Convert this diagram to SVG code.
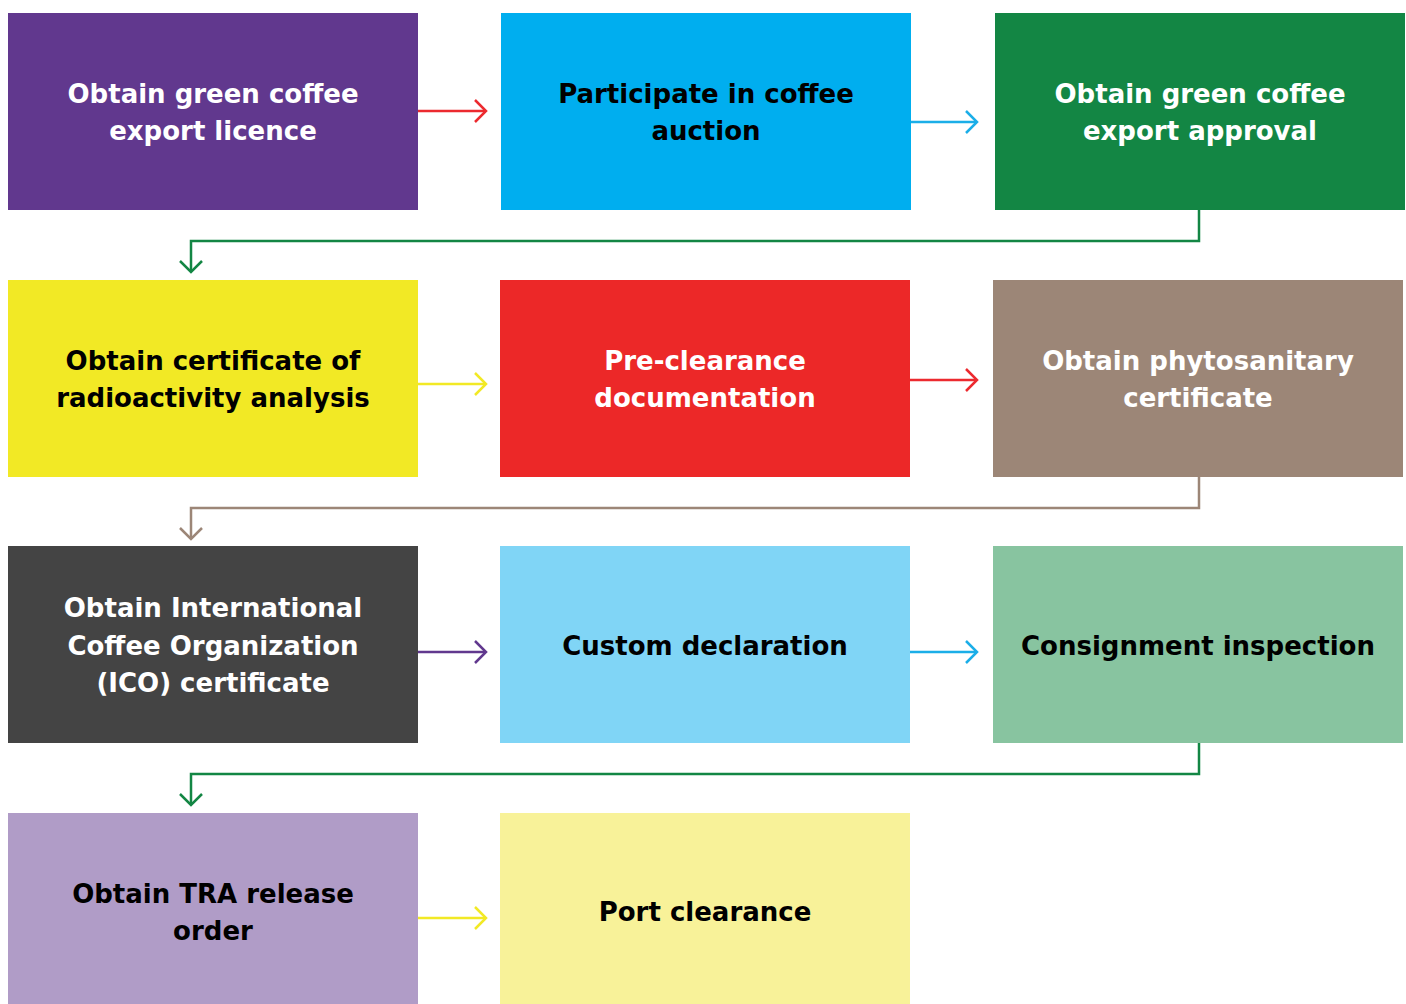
<svg xmlns="http://www.w3.org/2000/svg" width="1406" height="1004" viewBox="0 0 1406 1004">
  <defs>
    <style>
      text { font-family: "DejaVu Sans", Verdana, sans-serif; font-weight: bold; font-size: 26px; text-anchor: middle; }
      .w { fill: #ffffff; }
      .k { fill: #000000; }
      .ln { fill: none; stroke-width: 2.5; }
    </style>
    <marker id="ah-red" viewBox="0 0 14 24" refX="12" refY="12" markerWidth="14" markerHeight="24" markerUnits="userSpaceOnUse" orient="auto"><path d="M1,1 L12,12 L1,23" fill="none" stroke="#EC2A2F" stroke-width="2.5"/></marker>
    <marker id="ah-blue" viewBox="0 0 14 24" refX="12" refY="12" markerWidth="14" markerHeight="24" markerUnits="userSpaceOnUse" orient="auto"><path d="M1,1 L12,12 L1,23" fill="none" stroke="#1BAEE8" stroke-width="2.5"/></marker>
    <marker id="ah-green" viewBox="0 0 14 24" refX="12" refY="12" markerWidth="14" markerHeight="24" markerUnits="userSpaceOnUse" orient="auto"><path d="M1,1 L12,12 L1,23" fill="none" stroke="#138644" stroke-width="2.5"/></marker>
    <marker id="ah-yellow" viewBox="0 0 14 24" refX="12" refY="12" markerWidth="14" markerHeight="24" markerUnits="userSpaceOnUse" orient="auto"><path d="M1,1 L12,12 L1,23" fill="none" stroke="#F2E925" stroke-width="2.5"/></marker>
    <marker id="ah-brown" viewBox="0 0 14 24" refX="12" refY="12" markerWidth="14" markerHeight="24" markerUnits="userSpaceOnUse" orient="auto"><path d="M1,1 L12,12 L1,23" fill="none" stroke="#9C8677" stroke-width="2.5"/></marker>
    <marker id="ah-purple" viewBox="0 0 14 24" refX="12" refY="12" markerWidth="14" markerHeight="24" markerUnits="userSpaceOnUse" orient="auto"><path d="M1,1 L12,12 L1,23" fill="none" stroke="#61388E" stroke-width="2.5"/></marker>
  </defs>

  <rect width="1406" height="1004" fill="#ffffff"/>

  <g id="connectors">
    <line class="ln" x1="418" y1="111" x2="486" y2="111" stroke="#EC2A2F" marker-end="url(#ah-red)"/>
    <line class="ln" x1="911" y1="122" x2="977" y2="122" stroke="#1BAEE8" marker-end="url(#ah-blue)"/>
    <polyline class="ln" points="1199,210 1199,241 191,241 191,272" stroke="#138644" marker-end="url(#ah-green)"/>
    <line class="ln" x1="418" y1="384" x2="486" y2="384" stroke="#F2E925" marker-end="url(#ah-yellow)"/>
    <line class="ln" x1="910" y1="380" x2="977" y2="380" stroke="#EC2A2F" marker-end="url(#ah-red)"/>
    <polyline class="ln" points="1199,477 1199,508 191,508 191,539" stroke="#9C8677" marker-end="url(#ah-brown)"/>
    <line class="ln" x1="418" y1="652" x2="486" y2="652" stroke="#61388E" marker-end="url(#ah-purple)"/>
    <line class="ln" x1="910" y1="652" x2="977" y2="652" stroke="#1BAEE8" marker-end="url(#ah-blue)"/>
    <polyline class="ln" points="1199,743 1199,774 191,774 191,805" stroke="#138644" marker-end="url(#ah-green)"/>
    <line class="ln" x1="418" y1="918" x2="486" y2="918" stroke="#F2E925" marker-end="url(#ah-yellow)"/>
  </g>

  <g id="export-licence">
    <rect x="8" y="13" width="410" height="197" fill="#61388E"/>
    <text class="w" x="213" y="103">Obtain green coffee</text>
    <text class="w" x="213" y="140">export licence</text>
  </g>
  <g id="coffee-auction">
    <rect x="501" y="13" width="410" height="197" fill="#00AEEF"/>
    <text class="k" x="706" y="103">Participate in coffee</text>
    <text class="k" x="706" y="140">auction</text>
  </g>
  <g id="export-approval">
    <rect x="995" y="13" width="410" height="197" fill="#138644"/>
    <text class="w" x="1200" y="103">Obtain green coffee</text>
    <text class="w" x="1200" y="140">export approval</text>
  </g>

  <g id="radioactivity-certificate">
    <rect x="8" y="280" width="410" height="197" fill="#F2E925"/>
    <text class="k" x="213" y="370">Obtain certificate of</text>
    <text class="k" x="213" y="407">radioactivity analysis</text>
  </g>
  <g id="pre-clearance">
    <rect x="500" y="280" width="410" height="197" fill="#EC2828"/>
    <text class="w" x="705" y="370">Pre-clearance</text>
    <text class="w" x="705" y="407">documentation</text>
  </g>
  <g id="phytosanitary-certificate">
    <rect x="993" y="280" width="410" height="197" fill="#9C8677"/>
    <text class="w" x="1198" y="370">Obtain phytosanitary</text>
    <text class="w" x="1198" y="407">certificate</text>
  </g>

  <g id="ico-certificate">
    <rect x="8" y="546" width="410" height="197" fill="#444444"/>
    <text class="w" x="213" y="617">Obtain International</text>
    <text class="w" x="213" y="655">Coffee Organization</text>
    <text class="w" x="213" y="692">(ICO) certificate</text>
  </g>
  <g id="custom-declaration">
    <rect x="500" y="546" width="410" height="197" fill="#80D5F6"/>
    <text class="k" x="705" y="655">Custom declaration</text>
  </g>
  <g id="consignment-inspection">
    <rect x="993" y="546" width="410" height="197" fill="#88C4A0"/>
    <text class="k" x="1198" y="655">Consignment inspection</text>
  </g>

  <g id="tra-release-order">
    <rect x="8" y="813" width="410" height="191" fill="#B09CC7"/>
    <text class="k" x="213" y="903">Obtain TRA release</text>
    <text class="k" x="213" y="940">order</text>
  </g>
  <g id="port-clearance">
    <rect x="500" y="813" width="410" height="191" fill="#F8F299"/>
    <text class="k" x="705" y="921">Port clearance</text>
  </g>
</svg>
